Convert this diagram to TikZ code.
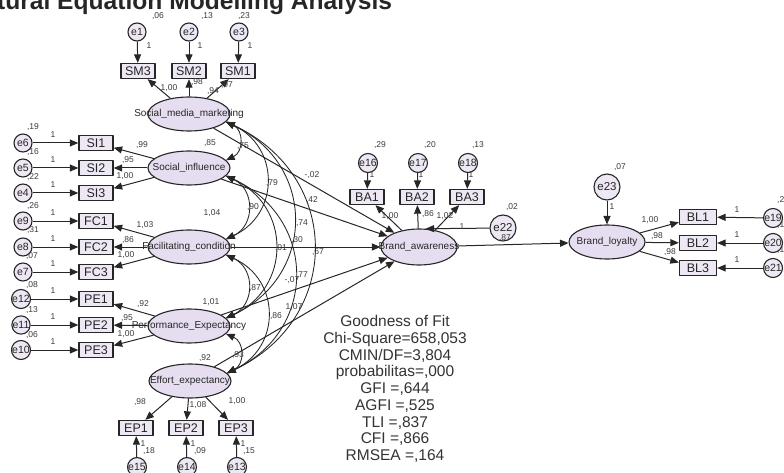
\documentclass[tikz,border=0pt]{standalone}
\usepackage{fontspec}
\setmainfont{Liberation Sans}
\usetikzlibrary{arrows.meta,shapes.geometric}

\definecolor{linec}{HTML}{262626}
\definecolor{latfill}{HTML}{E6DEF0}
\definecolor{obsfill}{HTML}{EEE8F4}
\definecolor{numc}{HTML}{3A3A3A}

\tikzset{
  lat/.style={ellipse,draw=linec,line width=1.1pt,fill=latfill,minimum width=82pt,minimum height=34pt,inner sep=0pt},
  latname/.style={font=\fontsize{10}{11}\selectfont,text=black!85,inner sep=0pt},
  obs/.style={rectangle,draw=linec,line width=1.3pt,fill=obsfill,minimum width=34pt,minimum height=15pt,inner sep=0pt,font=\fontsize{12.5}{13}\selectfont,text=black!85},
  err/.style={circle,draw=linec,line width=1.1pt,fill=obsfill,minimum size=18pt,inner sep=0pt,font=\fontsize{10.5}{11}\selectfont,text=black!85},
  errbig/.style={err,minimum size=26pt,font=\fontsize{11.5}{12}\selectfont},
  num/.style={font=\fontsize{8.5}{9}\selectfont,text=numc,inner sep=0pt},
  path/.style={-{Triangle[length=8.5pt,width=7pt]},line width=1pt,draw=linec},
  cov/.style={{Triangle[length=8.5pt,width=7pt]}-{Triangle[length=8.5pt,width=7pt]},line width=0.85pt,draw=linec,bend left=65,looseness=1.3},
}

\begin{document}
\begin{tikzpicture}[x=1pt,y=-1pt,line join=round]
  \useasboundingbox (0,0) rectangle (784,473);
  \node[anchor=base west,inner sep=0pt,font=\bfseries\fontsize{24.6}{26}\selectfont,text=black!85] (title) at (-66,10) {Structural Equation Modelling Analysis};

  % social media marketing
  \node[err] (e1) at (137,32) {e1};
  \node[err] (e2) at (189,32) {e2};
  \node[err] (e3) at (239,32) {e3};
  \node[obs] (sm3) at (138,71) {SM3};
  \node[obs] (sm2) at (189,71) {SM2};
  \node[obs] (sm1) at (238,71) {SM1};
  \node[lat,label={[latname]center:Social\_media\_marketing}] (smm) at (189,114) {};

  % social influence
  \node[err] (e6) at (23,143) {e6};
  \node[err] (e5) at (23,168) {e5};
  \node[err] (e4) at (23,193) {e4};
  \node[obs] (si1) at (96,143) {SI1};
  \node[obs] (si2) at (96,168) {SI2};
  \node[obs] (si3) at (96,193) {SI3};
  \node[lat,label={[latname]center:Social\_influence}] (si) at (189,168) {};

  % facilitating condition
  \node[err] (e9) at (23,221) {e9};
  \node[err] (e8) at (23,247) {e8};
  \node[err] (e7) at (23,272) {e7};
  \node[obs] (fc1) at (96,221) {FC1};
  \node[obs] (fc2) at (96,247) {FC2};
  \node[obs] (fc3) at (96,272) {FC3};
  \node[lat,label={[latname]center:Facilitating\_condition}] (fc) at (189,247) {};

  % performance expectancy
  \node[err] (e12) at (21,299) {e12};
  \node[err] (e11) at (21,325) {e11};
  \node[err] (e10) at (21,350) {e10};
  \node[obs] (pe1) at (96,299) {PE1};
  \node[obs] (pe2) at (96,325) {PE2};
  \node[obs] (pe3) at (96,350) {PE3};
  \node[lat,label={[latname]center:Performance\_Expectancy}] (pe) at (189,326) {};

  % effort expectancy
  \node[lat,label={[latname]center:Effort\_expectancy}] (ee) at (190,381) {};
  \node[obs] (ep1) at (136,428) {EP1};
  \node[obs] (ep2) at (186,428) {EP2};
  \node[obs] (ep3) at (236,428) {EP3};
  \node[err] (e15) at (137,467) {e15};
  \node[err] (e14) at (187,467) {e14};
  \node[err] (e13) at (237,467) {e13};

  % brand awareness
  \node[err] (e16) at (368,163) {e16};
  \node[err] (e17) at (418,163) {e17};
  \node[err] (e18) at (468,163) {e18};
  \node[obs] (ba1) at (367,197) {BA1};
  \node[obs] (ba2) at (417,197) {BA2};
  \node[obs] (ba3) at (467,197) {BA3};
  \node[lat,minimum width=76pt,minimum height=36pt,label={[latname]center:Brand\_awareness}] (ba) at (419,247) {};
  \node[errbig] (e22) at (503,228) {e22};

  % brand loyalty
  \node[errbig] (e23) at (607,187) {e23};
  \node[lat,minimum width=76pt,minimum height=34pt,label={[latname]center:Brand\_loyalty}] (bl) at (607,242) {};
  \node[obs,minimum width=37pt] (bl1) at (698,217) {BL1};
  \node[obs,minimum width=37pt] (bl2) at (698,243) {BL2};
  \node[obs,minimum width=37pt] (bl3) at (698,268) {BL3};
  \node[err] (e19) at (773,218) {e19};
  \node[err] (e20) at (773,243) {e20};
  \node[err] (e21) at (773,268) {e21};

  % measurement paths
  \draw[path] (e1) -- (sm3);
  \draw[path] (e2) -- (sm2);
  \draw[path] (e3) -- (sm1);
  \draw[path] (smm) -- (sm3);
  \draw[path] (smm) -- (sm2);
  \draw[path] (smm) -- (sm1);
  \draw[path] (e6) -- (si1);
  \draw[path] (e5) -- (si2);
  \draw[path] (e4) -- (si3);
  \draw[path] (si) -- (si1);
  \draw[path] (si) -- (si2);
  \draw[path] (si) -- (si3);
  \draw[path] (e9) -- (fc1);
  \draw[path] (e8) -- (fc2);
  \draw[path] (e7) -- (fc3);
  \draw[path] (fc) -- (fc1);
  \draw[path] (fc) -- (fc2);
  \draw[path] (fc) -- (fc3);
  \draw[path] (e12) -- (pe1);
  \draw[path] (e11) -- (pe2);
  \draw[path] (e10) -- (pe3);
  \draw[path] (pe) -- (pe1);
  \draw[path] (pe) -- (pe2);
  \draw[path] (pe) -- (pe3);
  \draw[path] (ee) -- (ep1);
  \draw[path] (ee) -- (ep2);
  \draw[path] (ee) -- (ep3);
  \draw[path] (e15) -- (ep1);
  \draw[path] (e14) -- (ep2);
  \draw[path] (e13) -- (ep3);
  \draw[path] (e16) -- (ba1);
  \draw[path] (e17) -- (ba2);
  \draw[path] (e18) -- (ba3);
  \draw[path] (ba) -- (ba1);
  \draw[path] (ba) -- (ba2);
  \draw[path] (ba) -- (ba3);
  \draw[path] (e23) -- (bl);
  \draw[path] (bl) -- (bl1);
  \draw[path] (bl) -- (bl2);
  \draw[path] (bl) -- (bl3);
  \draw[path] (e19) -- (bl1);
  \draw[path] (e20) -- (bl2);
  \draw[path] (e21) -- (bl3);

  % structural paths
  \draw[path] (smm) -- (ba);
  \draw[path] (si) -- (ba);
  \draw[path] (fc) -- (ba);
  \draw[path] (pe) -- (ba);
  \draw[path] (ee) -- (ba);
  \draw[path] (e22) -- (ba.70);
  \draw[path] (ba) -- (bl);

  % covariances
  \draw[cov] (smm.-12) to (si.12);
  \draw[cov] (smm.-12) to (fc.12);
  \draw[cov] (smm.-12) to (pe.12);
  \draw[cov] (smm.-12) to (ee.12);
  \draw[cov] (si.-12) to (fc.12);
  \draw[cov] (si.-12) to (pe.12);
  \draw[cov] (si.-12) to (ee.12);
  \draw[cov] (fc.-12) to (pe.12);
  \draw[cov] (fc.-12) to (ee.12);
  \draw[cov] (pe.-12) to (ee.12);

  % estimates
  \node[num] (v1) at (158,16) {,06};
  \node[num] (v2) at (207,16) {,13};
  \node[num] (v3) at (244,16) {,23};
  \node[num] (w1) at (149,46) {1};
  \node[num] (w2) at (200,46) {1};
  \node[num] (w3) at (250,46) {1};
  \node[num] (l1) at (169,88) {1,00};
  \node[num] (l2) at (197,82) {,98};
  \node[num] (r1) at (213,91) {,94};
  \node[num] (l3) at (227,85) {,97};

  \node[num] (v6) at (33,127) {,19};
  \node[num] (v5) at (33,152) {,16};
  \node[num] (v4) at (33,177) {,22};
  \node[num] (w6) at (53,135) {1};
  \node[num] (w5) at (53,160) {1};
  \node[num] (w4) at (53,185) {1};
  \node[num] (l4) at (142,145) {,99};
  \node[num] (l5) at (128,160) {,95};
  \node[num] (l6) at (125,176) {1,00};
  \node[num] (r2) at (210,143) {,85};

  \node[num] (v9) at (33,206) {,26};
  \node[num] (v8) at (33,230) {,31};
  \node[num] (v7) at (32,256) {,07};
  \node[num] (w9) at (53,213) {1};
  \node[num] (w8) at (53,239) {1};
  \node[num] (w7) at (53,264) {1};
  \node[num] (l7) at (145,225) {1,03};
  \node[num] (l8) at (128,240) {,86};
  \node[num] (l9) at (126,255) {1,00};
  \node[num] (r3) at (212,213) {1,04};

  \node[num] (v12) at (32,285) {,08};
  \node[num] (v11) at (32,310) {,13};
  \node[num] (v10) at (32,335) {,06};
  \node[num] (w12) at (53,291) {1};
  \node[num] (w11) at (53,317) {1};
  \node[num] (w10) at (53,342) {1};
  \node[num] (l10) at (143,304) {,92};
  \node[num] (l11) at (127,318) {,95};
  \node[num] (l12) at (126,334) {1,00};
  \node[num] (r4) at (211,302) {1,01};

  \node[num] (r5) at (205,358) {,92};
  \node[num] (l13) at (140,402) {,98};
  \node[num] (l14) at (198,405) {1,08};
  \node[num] (l15) at (237,401) {1,00};
  \node[num] (w15) at (143,444) {1};
  \node[num] (w14) at (193,444) {1};
  \node[num] (w13) at (243,444) {1};
  \node[num] (v15) at (149,451) {,18};
  \node[num] (v14) at (200,451) {,09};
  \node[num] (v13) at (249,451) {,15};

  \node[num] (c1) at (243,146) {,75};
  \node[num] (c2) at (272,183) {,79};
  \node[num] (c3) at (253,207) {,90};
  \node[num] (c4) at (302,223) {,74};
  \node[num] (c5) at (297,240) {,30};
  \node[num] (c6) at (281,248) {,01};
  \node[num] (c7) at (255,288) {,87};
  \node[num] (c8) at (302,275) {,77};
  \node[num] (c9) at (276,316) {,86};
  \node[num] (c10) at (238,355) {,93};
  \node[num] (b1) at (312,175) {-,02};
  \node[num] (b2) at (312,200) {,42};
  \node[num] (b3) at (318,252) {,67};
  \node[num] (b4) at (292,280) {-,07};
  \node[num] (b5) at (294,307) {1,07};

  \node[num] (v16) at (380,145) {,29};
  \node[num] (v17) at (430,145) {,20};
  \node[num] (v18) at (478,145) {,13};
  \node[num] (w16) at (372,175) {1};
  \node[num] (w17) at (421,175) {1};
  \node[num] (w18) at (471,175) {1};
  \node[num] (l16) at (390,216) {1,00};
  \node[num] (l17) at (428,214) {,86};
  \node[num] (l18) at (445,216) {1,02};
  \node[num] (w22) at (462,227) {1};
  \node[num] (v22) at (512,207) {,02};
  \node[num] (b6) at (505,238) {,87};

  \node[num] (v23) at (620,167) {,07};
  \node[num] (w23) at (612,207) {1};
  \node[num] (l19) at (650,220) {1,00};
  \node[num] (l20) at (657,236) {,98};
  \node[num] (l21) at (670,252) {,98};
  \node[num] (w19) at (737,210) {1};
  \node[num] (w20) at (737,235) {1};
  \node[num] (w21) at (737,260) {1};
  \node[num,anchor=west] (v19) at (777,200) {,2};
  \node[num,anchor=west] (v20) at (777,225) {,1};
  \node[num,anchor=west] (v21) at (777,250) {,1};

  % fit indices
  \node[align=center,inner sep=0pt,font=\fontsize{15.5}{16.75}\selectfont,text=black!80] (fit) at (395,389)
    {Goodness of Fit\\Chi-Square=658,053\\CMIN/DF=3,804\\probabilitas=,000\\GFI =,644\\AGFI =,525\\TLI =,837\\CFI =,866\\RMSEA =,164};
\end{tikzpicture}
\end{document}
